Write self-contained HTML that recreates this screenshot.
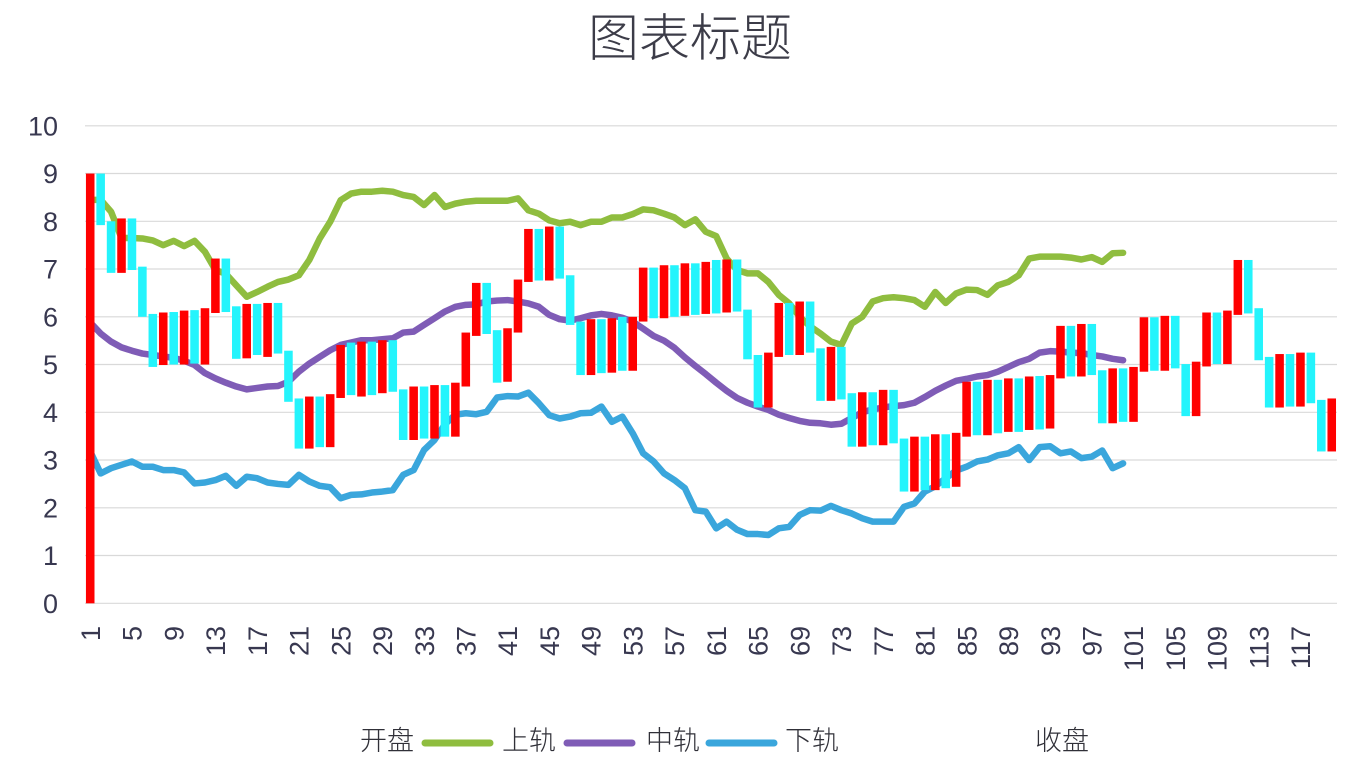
<!DOCTYPE html>
<html>
<head>
<meta charset="utf-8">
<style>
html,body{margin:0;padding:0;background:#ffffff;}
svg{display:block;}
text{font-family:"Liberation Sans","Noto Sans CJK SC",sans-serif;}
.cjk{font-family:"Noto Sans CJK SC","WenQuanYi Zen Hei",sans-serif;}
</style>
</head>
<body>
<svg width="1350" height="774" viewBox="0 0 1350 774" xmlns="http://www.w3.org/2000/svg">
<rect x="0" y="0" width="1350" height="774" fill="#ffffff"/>

<text x="690" y="56" text-anchor="middle" font-size="51" font-weight="300" fill="#3c3c48" class="cjk">图表标题</text>

<g stroke="#d9d9d9" stroke-width="1.2">
<line x1="85" y1="125.8" x2="1337" y2="125.8"/>
<line x1="85" y1="173.5" x2="1337" y2="173.5"/>
<line x1="85" y1="221.3" x2="1337" y2="221.3"/>
<line x1="85" y1="269.0" x2="1337" y2="269.0"/>
<line x1="85" y1="316.8" x2="1337" y2="316.8"/>
<line x1="85" y1="364.5" x2="1337" y2="364.5"/>
<line x1="85" y1="412.3" x2="1337" y2="412.3"/>
<line x1="85" y1="460.0" x2="1337" y2="460.0"/>
<line x1="85" y1="507.8" x2="1337" y2="507.8"/>
<line x1="85" y1="555.5" x2="1337" y2="555.5"/>
<line x1="85" y1="603.3" x2="1337" y2="603.3"/>
</g>

<g font-size="27" fill="#383850" text-anchor="end">
<text x="58" y="135.5">10</text>
<text x="58" y="183.2">9</text>
<text x="58" y="231.0">8</text>
<text x="58" y="278.7">7</text>
<text x="58" y="326.5">6</text>
<text x="58" y="374.2">5</text>
<text x="58" y="422.0">4</text>
<text x="58" y="469.7">3</text>
<text x="58" y="517.5">2</text>
<text x="58" y="565.2">1</text>
<text x="58" y="613.0">0</text>
</g>

<g font-size="27" fill="#383850" text-anchor="end">
<text transform="translate(99.9,626) rotate(-90)">1</text>
<text transform="translate(141.7,626) rotate(-90)">5</text>
<text transform="translate(183.4,626) rotate(-90)">9</text>
<text transform="translate(225.1,626) rotate(-90)">13</text>
<text transform="translate(266.8,626) rotate(-90)">17</text>
<text transform="translate(308.6,626) rotate(-90)">21</text>
<text transform="translate(350.3,626) rotate(-90)">25</text>
<text transform="translate(392.0,626) rotate(-90)">29</text>
<text transform="translate(433.8,626) rotate(-90)">33</text>
<text transform="translate(475.5,626) rotate(-90)">37</text>
<text transform="translate(517.2,626) rotate(-90)">41</text>
<text transform="translate(559.0,626) rotate(-90)">45</text>
<text transform="translate(600.7,626) rotate(-90)">49</text>
<text transform="translate(642.4,626) rotate(-90)">53</text>
<text transform="translate(684.2,626) rotate(-90)">57</text>
<text transform="translate(725.9,626) rotate(-90)">61</text>
<text transform="translate(767.6,626) rotate(-90)">65</text>
<text transform="translate(809.4,626) rotate(-90)">69</text>
<text transform="translate(851.1,626) rotate(-90)">73</text>
<text transform="translate(892.8,626) rotate(-90)">77</text>
<text transform="translate(934.6,626) rotate(-90)">81</text>
<text transform="translate(976.3,626) rotate(-90)">85</text>
<text transform="translate(1018.0,626) rotate(-90)">89</text>
<text transform="translate(1059.8,626) rotate(-90)">93</text>
<text transform="translate(1101.5,626) rotate(-90)">97</text>
<text transform="translate(1143.2,626) rotate(-90)">101</text>
<text transform="translate(1185.0,626) rotate(-90)">105</text>
<text transform="translate(1226.7,626) rotate(-90)">109</text>
<text transform="translate(1268.4,626) rotate(-90)">113</text>
<text transform="translate(1310.2,626) rotate(-90)">117</text>
</g>

<g transform="translate(85,603.3) scale(10.433,-47.75)">
<g fill="none" stroke-width="6.5" stroke-linejoin="round" stroke-linecap="round">
<polyline vector-effect="non-scaling-stroke" stroke="#8fbd3f" points="0.5,8.45 1.5,8.45 2.5,8.2 3.5,7.65 4.5,7.65 5.5,7.64 6.5,7.6 7.5,7.5 8.5,7.59 9.5,7.48 10.5,7.59 11.5,7.36 12.5,6.98 13.5,6.9 14.5,6.66 15.5,6.42 16.5,6.52 17.5,6.63 18.5,6.73 19.5,6.78 20.5,6.87 21.5,7.19 22.5,7.64 23.5,7.99 24.5,8.44 25.5,8.58 26.5,8.62 27.5,8.62 28.5,8.64 29.5,8.62 30.5,8.55 31.5,8.51 32.5,8.34 33.5,8.55 34.5,8.3 35.5,8.37 36.5,8.41 37.5,8.43 38.5,8.43 39.5,8.43 40.5,8.43 41.5,8.48 42.5,8.23 43.5,8.16 44.5,8.02 45.5,7.96 46.5,7.99 47.5,7.92 48.5,7.99 49.5,7.99 50.5,8.08 51.5,8.08 52.5,8.15 53.5,8.25 54.5,8.23 55.5,8.16 56.5,8.08 57.5,7.92 58.5,8.04 59.5,7.78 60.5,7.69 61.5,7.22 62.5,6.98 63.5,6.91 64.5,6.91 65.5,6.73 66.5,6.46 67.5,6.28 68.5,6.0 69.5,5.8 70.5,5.65 71.5,5.48 72.5,5.41 73.5,5.86 74.5,6.0 75.5,6.32 76.5,6.39 77.5,6.41 78.5,6.39 79.5,6.35 80.5,6.21 81.5,6.52 82.5,6.29 83.5,6.49 84.5,6.57 85.5,6.56 86.5,6.46 87.5,6.66 88.5,6.73 89.5,6.87 90.5,7.22 91.5,7.26 92.5,7.26 93.5,7.26 94.5,7.24 95.5,7.2 96.5,7.25 97.5,7.15 98.5,7.33 99.5,7.34"/>
<polyline vector-effect="non-scaling-stroke" stroke="#7f5cb6" points="0.5,5.88 1.5,5.65 2.5,5.48 3.5,5.36 4.5,5.29 5.5,5.23 6.5,5.2 7.5,5.17 8.5,5.14 9.5,5.08 10.5,4.99 11.5,4.82 12.5,4.71 13.5,4.62 14.5,4.54 15.5,4.48 16.5,4.51 17.5,4.54 18.5,4.55 19.5,4.64 20.5,4.85 21.5,5.02 22.5,5.16 23.5,5.3 24.5,5.41 25.5,5.46 26.5,5.51 27.5,5.51 28.5,5.53 29.5,5.55 30.5,5.67 31.5,5.69 32.5,5.83 33.5,5.97 34.5,6.11 35.5,6.21 36.5,6.25 37.5,6.26 38.5,6.32 39.5,6.34 40.5,6.35 41.5,6.32 42.5,6.28 43.5,6.21 44.5,6.04 45.5,5.95 46.5,5.92 47.5,5.97 48.5,6.03 49.5,6.06 50.5,6.03 51.5,5.98 52.5,5.9 53.5,5.75 54.5,5.6 55.5,5.5 56.5,5.35 57.5,5.15 58.5,4.97 59.5,4.8 60.5,4.62 61.5,4.45 62.5,4.3 63.5,4.2 64.5,4.12 65.5,4.05 66.5,3.95 67.5,3.88 68.5,3.82 69.5,3.78 70.5,3.77 71.5,3.74 72.5,3.76 73.5,3.88 74.5,4.0 75.5,4.06 76.5,4.1 77.5,4.13 78.5,4.15 79.5,4.2 80.5,4.32 81.5,4.45 82.5,4.56 83.5,4.66 84.5,4.7 85.5,4.75 86.5,4.78 87.5,4.85 88.5,4.95 89.5,5.05 90.5,5.12 91.5,5.25 92.5,5.28 93.5,5.27 94.5,5.25 95.5,5.24 96.5,5.2 97.5,5.17 98.5,5.12 99.5,5.09"/>
<polyline vector-effect="non-scaling-stroke" stroke="#3aa6dc" points="0.5,3.18 1.5,2.72 2.5,2.83 3.5,2.9 4.5,2.97 5.5,2.86 6.5,2.86 7.5,2.79 8.5,2.79 9.5,2.74 10.5,2.51 11.5,2.53 12.5,2.58 13.5,2.67 14.5,2.46 15.5,2.65 16.5,2.62 17.5,2.53 18.5,2.5 19.5,2.48 20.5,2.69 21.5,2.55 22.5,2.46 23.5,2.43 24.5,2.2 25.5,2.27 26.5,2.28 27.5,2.32 28.5,2.34 29.5,2.37 30.5,2.69 31.5,2.79 32.5,3.21 33.5,3.42 34.5,3.75 35.5,3.95 36.5,3.98 37.5,3.96 38.5,4.01 39.5,4.31 40.5,4.34 41.5,4.33 42.5,4.41 43.5,4.19 44.5,3.94 45.5,3.87 46.5,3.91 47.5,3.98 48.5,3.99 49.5,4.12 50.5,3.8 51.5,3.91 52.5,3.56 53.5,3.14 54.5,2.97 55.5,2.72 56.5,2.58 57.5,2.41 58.5,1.95 59.5,1.92 60.5,1.57 61.5,1.71 62.5,1.54 63.5,1.45 64.5,1.45 65.5,1.43 66.5,1.57 67.5,1.6 68.5,1.85 69.5,1.95 70.5,1.94 71.5,2.04 72.5,1.95 73.5,1.88 74.5,1.78 75.5,1.71 76.5,1.71 77.5,1.71 78.5,2.02 79.5,2.09 80.5,2.34 81.5,2.45 82.5,2.62 83.5,2.78 84.5,2.86 85.5,2.97 86.5,3.01 87.5,3.1 88.5,3.14 89.5,3.27 90.5,3.0 91.5,3.27 92.5,3.29 93.5,3.14 94.5,3.18 95.5,3.04 96.5,3.07 97.5,3.2 98.5,2.83 99.5,2.93"/>
</g>

<g fill="#24f4fc">
<rect x="1.09" y="7.92" width="0.82" height="1.08"/>
<rect x="2.09" y="6.92" width="0.82" height="1.08"/>
<rect x="4.09" y="6.98" width="0.82" height="1.08"/>
<rect x="5.09" y="6.0" width="0.82" height="1.05"/>
<rect x="6.09" y="4.95" width="0.82" height="1.11"/>
<rect x="8.09" y="5.0" width="0.82" height="1.1"/>
<rect x="10.09" y="5.02" width="0.82" height="1.12"/>
<rect x="13.09" y="6.1" width="0.82" height="1.12"/>
<rect x="14.09" y="5.12" width="0.82" height="1.1"/>
<rect x="16.09" y="5.2" width="0.82" height="1.07"/>
<rect x="18.09" y="5.23" width="0.82" height="1.06"/>
<rect x="19.09" y="4.22" width="0.82" height="1.07"/>
<rect x="20.09" y="3.24" width="0.82" height="1.05"/>
<rect x="22.09" y="3.27" width="0.82" height="1.06"/>
<rect x="25.09" y="4.36" width="0.82" height="1.1"/>
<rect x="27.09" y="4.36" width="0.82" height="1.12"/>
<rect x="29.09" y="4.43" width="0.82" height="1.08"/>
<rect x="30.09" y="3.42" width="0.82" height="1.06"/>
<rect x="32.09" y="3.45" width="0.82" height="1.09"/>
<rect x="34.09" y="3.49" width="0.82" height="1.08"/>
<rect x="38.09" y="5.64" width="0.82" height="1.07"/>
<rect x="39.09" y="4.62" width="0.82" height="1.1"/>
<rect x="43.09" y="6.76" width="0.82" height="1.08"/>
<rect x="45.09" y="6.8" width="0.82" height="1.09"/>
<rect x="46.09" y="5.83" width="0.82" height="1.04"/>
<rect x="47.09" y="4.78" width="0.82" height="1.12"/>
<rect x="49.09" y="4.82" width="0.82" height="1.13"/>
<rect x="51.09" y="4.87" width="0.82" height="1.13"/>
<rect x="54.09" y="5.97" width="0.82" height="1.06"/>
<rect x="56.09" y="6.0" width="0.82" height="1.08"/>
<rect x="58.09" y="6.04" width="0.82" height="1.08"/>
<rect x="60.09" y="6.07" width="0.82" height="1.12"/>
<rect x="62.09" y="6.11" width="0.82" height="1.09"/>
<rect x="63.09" y="5.11" width="0.82" height="1.04"/>
<rect x="64.09" y="4.1" width="0.82" height="1.1"/>
<rect x="67.09" y="5.2" width="0.82" height="1.09"/>
<rect x="69.09" y="5.25" width="0.82" height="1.07"/>
<rect x="70.09" y="4.24" width="0.82" height="1.1"/>
<rect x="72.09" y="4.27" width="0.82" height="1.1"/>
<rect x="73.09" y="3.28" width="0.82" height="1.12"/>
<rect x="75.09" y="3.31" width="0.82" height="1.11"/>
<rect x="77.09" y="3.35" width="0.82" height="1.12"/>
<rect x="78.09" y="2.34" width="0.82" height="1.11"/>
<rect x="80.09" y="2.37" width="0.82" height="1.12"/>
<rect x="82.09" y="2.41" width="0.82" height="1.13"/>
<rect x="85.09" y="3.52" width="0.82" height="1.12"/>
<rect x="87.09" y="3.56" width="0.82" height="1.12"/>
<rect x="89.09" y="3.59" width="0.82" height="1.12"/>
<rect x="91.09" y="3.64" width="0.82" height="1.12"/>
<rect x="94.09" y="4.75" width="0.82" height="1.06"/>
<rect x="96.09" y="4.78" width="0.82" height="1.07"/>
<rect x="97.09" y="3.77" width="0.82" height="1.11"/>
<rect x="99.09" y="3.8" width="0.82" height="1.12"/>
<rect x="102.09" y="4.87" width="0.82" height="1.12"/>
<rect x="104.09" y="4.92" width="0.82" height="1.1"/>
<rect x="105.09" y="3.92" width="0.82" height="1.09"/>
<rect x="108.09" y="5.01" width="0.82" height="1.08"/>
<rect x="111.09" y="6.07" width="0.82" height="1.12"/>
<rect x="112.09" y="5.09" width="0.82" height="1.09"/>
<rect x="113.09" y="4.1" width="0.82" height="1.06"/>
<rect x="115.09" y="4.12" width="0.82" height="1.1"/>
<rect x="117.09" y="4.19" width="0.82" height="1.06"/>
<rect x="118.09" y="3.18" width="0.82" height="1.08"/>
</g>

<g fill="#ff0000">
<rect x="0.09" y="0" width="0.82" height="9"/>
<rect x="3.09" y="6.92" width="0.82" height="1.14"/>
<rect x="7.09" y="4.99" width="0.82" height="1.10"/>
<rect x="9.09" y="5.0" width="0.82" height="1.13"/>
<rect x="11.09" y="5.0" width="0.82" height="1.18"/>
<rect x="12.09" y="6.08" width="0.82" height="1.14"/>
<rect x="15.09" y="5.13" width="0.82" height="1.14"/>
<rect x="17.09" y="5.16" width="0.82" height="1.13"/>
<rect x="21.09" y="3.24" width="0.82" height="1.09"/>
<rect x="23.09" y="3.27" width="0.82" height="1.11"/>
<rect x="24.09" y="4.3" width="0.82" height="1.11"/>
<rect x="26.09" y="4.33" width="0.82" height="1.15"/>
<rect x="28.09" y="4.4" width="0.82" height="1.11"/>
<rect x="31.09" y="3.42" width="0.82" height="1.12"/>
<rect x="33.09" y="3.45" width="0.82" height="1.12"/>
<rect x="35.09" y="3.49" width="0.82" height="1.13"/>
<rect x="36.09" y="4.54" width="0.82" height="1.13"/>
<rect x="37.09" y="5.6" width="0.82" height="1.11"/>
<rect x="40.09" y="4.64" width="0.82" height="1.12"/>
<rect x="41.09" y="5.67" width="0.82" height="1.11"/>
<rect x="42.09" y="6.73" width="0.82" height="1.11"/>
<rect x="44.09" y="6.76" width="0.82" height="1.13"/>
<rect x="48.09" y="4.78" width="0.82" height="1.17"/>
<rect x="50.09" y="4.83" width="0.82" height="1.14"/>
<rect x="52.09" y="4.87" width="0.82" height="1.13"/>
<rect x="53.09" y="5.9" width="0.82" height="1.13"/>
<rect x="55.09" y="5.97" width="0.82" height="1.11"/>
<rect x="57.09" y="6.02" width="0.82" height="1.1"/>
<rect x="59.09" y="6.06" width="0.82" height="1.09"/>
<rect x="61.09" y="6.09" width="0.82" height="1.11"/>
<rect x="65.09" y="4.1" width="0.82" height="1.15"/>
<rect x="66.09" y="5.16" width="0.82" height="1.13"/>
<rect x="68.09" y="5.2" width="0.82" height="1.12"/>
<rect x="71.09" y="4.24" width="0.82" height="1.13"/>
<rect x="74.09" y="3.28" width="0.82" height="1.14"/>
<rect x="76.09" y="3.31" width="0.82" height="1.16"/>
<rect x="79.09" y="2.34" width="0.82" height="1.15"/>
<rect x="81.09" y="2.37" width="0.82" height="1.17"/>
<rect x="83.09" y="2.44" width="0.82" height="1.13"/>
<rect x="84.09" y="3.49" width="0.82" height="1.15"/>
<rect x="86.09" y="3.52" width="0.82" height="1.16"/>
<rect x="88.09" y="3.59" width="0.82" height="1.12"/>
<rect x="90.09" y="3.63" width="0.82" height="1.12"/>
<rect x="92.09" y="3.66" width="0.82" height="1.12"/>
<rect x="93.09" y="4.71" width="0.82" height="1.1"/>
<rect x="95.09" y="4.75" width="0.82" height="1.1"/>
<rect x="98.09" y="3.77" width="0.82" height="1.15"/>
<rect x="100.09" y="3.8" width="0.82" height="1.15"/>
<rect x="101.09" y="4.85" width="0.82" height="1.14"/>
<rect x="103.09" y="4.87" width="0.82" height="1.15"/>
<rect x="106.09" y="3.92" width="0.82" height="1.14"/>
<rect x="107.09" y="4.96" width="0.82" height="1.13"/>
<rect x="109.09" y="5.01" width="0.82" height="1.12"/>
<rect x="110.09" y="6.04" width="0.82" height="1.15"/>
<rect x="114.09" y="4.1" width="0.82" height="1.12"/>
<rect x="116.09" y="4.12" width="0.82" height="1.13"/>
<rect x="119.09" y="3.18" width="0.82" height="1.11"/>
</g>
</g>

<g font-size="27" font-weight="300" fill="#303038" class="cjk">
<text x="360" y="750">开盘</text>
<text x="502" y="750">上轨</text>
<text x="646" y="750">中轨</text>
<text x="785" y="750">下轨</text>
<text x="1035" y="750">收盘</text>
</g>
<g stroke-width="7" stroke-linecap="round">
<line x1="425" y1="743" x2="490" y2="743" stroke="#8fbd3f"/>
<line x1="567" y1="743" x2="632" y2="743" stroke="#7f5cb6"/>
<line x1="709" y1="743" x2="774" y2="743" stroke="#3aa6dc"/>
</g>
</svg>
</body>
</html>
